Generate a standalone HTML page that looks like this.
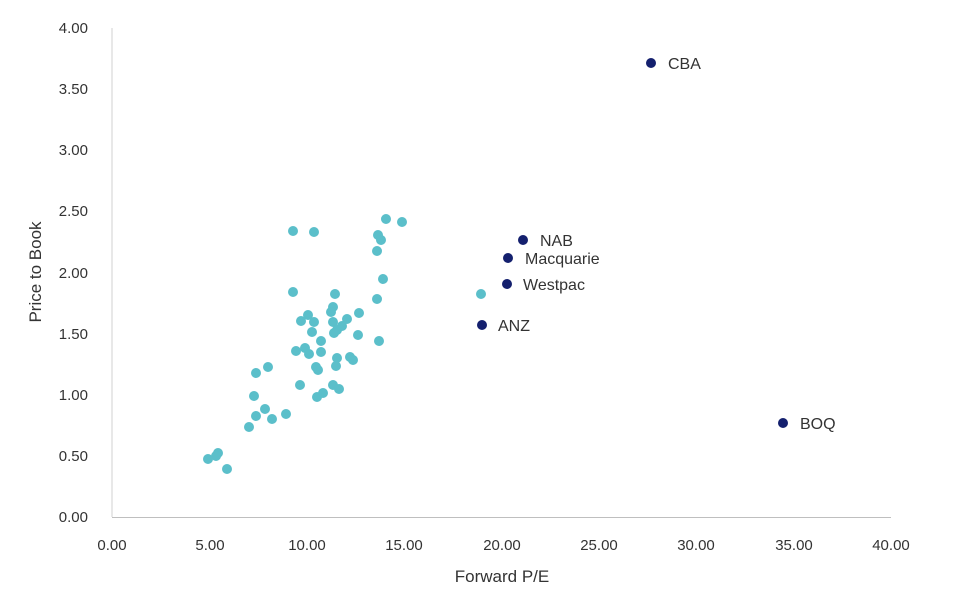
<!DOCTYPE html>
<html><head><meta charset="utf-8"><style>
html,body{margin:0;padding:0;background:#fff;}
svg text{font-family:"Liberation Sans",sans-serif;fill:#333;}
</style></head><body>
<svg width="971" height="603" viewBox="0 0 971 603" xmlns="http://www.w3.org/2000/svg">
<line x1="112" y1="28" x2="112" y2="517" stroke="#d0d0d0" stroke-width="1"/>
<line x1="112" y1="517.5" x2="891" y2="517.5" stroke="#bfbfbf" stroke-width="1"/>
<g font-size="15" text-anchor="end">
<text x="88" y="522">0.00</text><text x="88" y="461">0.50</text><text x="88" y="400">1.00</text><text x="88" y="339">1.50</text><text x="88" y="278">2.00</text><text x="88" y="216">2.50</text><text x="88" y="155">3.00</text><text x="88" y="94">3.50</text><text x="88" y="33">4.00</text>
</g>
<g font-size="15" text-anchor="middle">
<text x="112" y="550">0.00</text><text x="210" y="550">5.00</text><text x="307" y="550">10.00</text><text x="404" y="550">15.00</text><text x="502" y="550">20.00</text><text x="599" y="550">25.00</text><text x="696" y="550">30.00</text><text x="794" y="550">35.00</text><text x="891" y="550">40.00</text>
</g>
<text x="502" y="582" font-size="17" text-anchor="middle">Forward P/E</text>
<text transform="translate(41,272) rotate(-90)" font-size="17" text-anchor="middle">Price to Book</text>
<g fill="#5bbfca">
<circle cx="293" cy="231" r="5"/><circle cx="314" cy="232" r="5"/><circle cx="386" cy="219" r="5"/><circle cx="402" cy="222" r="5"/><circle cx="378" cy="235" r="5"/><circle cx="381" cy="240" r="5"/><circle cx="377" cy="251" r="5"/><circle cx="383" cy="279" r="5"/><circle cx="377" cy="299" r="5"/><circle cx="293" cy="292" r="5"/><circle cx="335" cy="294" r="5"/><circle cx="333" cy="307" r="5"/><circle cx="331" cy="312" r="5"/><circle cx="359" cy="313" r="5"/><circle cx="308" cy="315" r="5"/><circle cx="301" cy="321" r="5"/><circle cx="314" cy="322" r="5"/><circle cx="333" cy="322" r="5"/><circle cx="347" cy="319" r="5"/><circle cx="342" cy="326" r="5"/><circle cx="337" cy="330" r="5"/><circle cx="312" cy="332" r="5"/><circle cx="334" cy="333" r="5"/><circle cx="358" cy="335" r="5"/><circle cx="321" cy="341" r="5"/><circle cx="379" cy="341" r="5"/><circle cx="296" cy="351" r="5"/><circle cx="305" cy="348" r="5"/><circle cx="309" cy="354" r="5"/><circle cx="321" cy="352" r="5"/><circle cx="337" cy="358" r="5"/><circle cx="350" cy="357" r="5"/><circle cx="353" cy="360" r="5"/><circle cx="336" cy="366" r="5"/><circle cx="316" cy="367" r="5"/><circle cx="318" cy="370" r="5"/><circle cx="268" cy="367" r="5"/><circle cx="256" cy="373" r="5"/><circle cx="300" cy="385" r="5"/><circle cx="333" cy="385" r="5"/><circle cx="339" cy="389" r="5"/><circle cx="323" cy="393" r="5"/><circle cx="317" cy="397" r="5"/><circle cx="254" cy="396" r="5"/><circle cx="265" cy="409" r="5"/><circle cx="286" cy="414" r="5"/><circle cx="256" cy="416" r="5"/><circle cx="272" cy="419" r="5"/><circle cx="249" cy="427" r="5"/><circle cx="218" cy="453" r="5"/><circle cx="216" cy="456" r="5"/><circle cx="208" cy="459" r="5"/><circle cx="227" cy="469" r="5"/><circle cx="481" cy="294" r="5"/>
</g>
<g fill="#14206e">
<circle cx="651" cy="63" r="5"/><circle cx="523" cy="240" r="5"/><circle cx="508" cy="258" r="5"/><circle cx="507" cy="284" r="5"/><circle cx="482" cy="325" r="5"/><circle cx="783" cy="423" r="5"/>
</g>
<g font-size="16">
<text x="668" y="69">CBA</text><text x="540" y="246">NAB</text><text x="525" y="264">Macquarie</text><text x="523" y="290">Westpac</text><text x="498" y="331">ANZ</text><text x="800" y="429">BOQ</text>
</g>
</svg>
</body></html>
